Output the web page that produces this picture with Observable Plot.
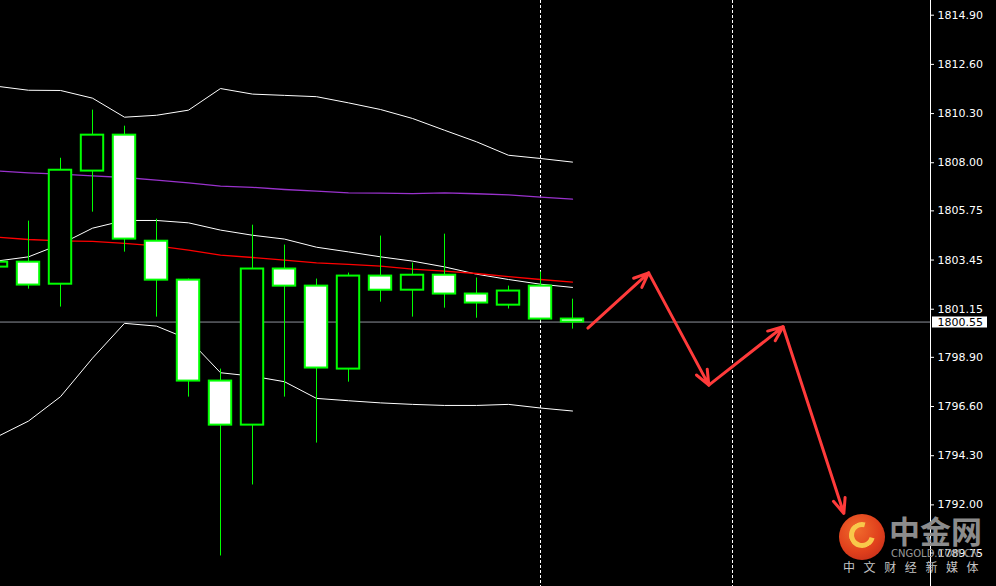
<!DOCTYPE html>
<html><head><meta charset="utf-8">
<script src="https://cdn.jsdelivr.net/npm/d3@7"></script>
<script src="https://cdn.jsdelivr.net/npm/@observablehq/plot@0.6"></script>
<style>
html,body{margin:0;padding:0;background:#000;}
#wrap{position:relative;width:996px;height:586px;overflow:hidden;background:#000;}
#chart svg{display:block;}
.lg-circle{position:absolute;left:839px;top:514px;width:46px;height:46px;border-radius:50%;
  background:radial-gradient(circle at 40% 35%,#f06a2c 0%,#e0401c 55%,#b8261a 100%);}
.lg-swirl{position:absolute;left:10px;top:8px;width:16px;height:16px;border-radius:50%;
  border:5px solid #f8c84a;border-right-color:transparent;border-bottom-color:#f8c84a;transform:rotate(-30deg);}
.lg-big{position:absolute;left:889px;top:513px;font-family:"Noto Sans CJK SC";font-weight:bold;font-size:31px;line-height:34px;color:#8c8c8c;}
.lg-en{position:absolute;left:891px;top:548px;font-family:"DejaVu Sans";font-size:10px;line-height:12px;color:#9a9a9a;}
.lg-cn{position:absolute;left:843px;top:560px;font-family:"Noto Sans CJK SC";font-size:12px;line-height:14px;letter-spacing:8.6px;color:#c4c4c4;white-space:nowrap;}
</style></head><body>
<div id="wrap"><div id="chart"></div>
<div class="lg-circle"><div class="lg-swirl"></div></div>
<div class="lg-big">中金网</div>
<div class="lg-en">CNGOLD.COM.CN</div>
<div class="lg-cn">中文财经新媒体</div>
</div>
<script>
// bar index (0 = first fully visible candle)
const barIndex = [-1,0,1,2,3,4,5,6,7,8,9,10,11,12,13,14,15,16,17];
const open  = [1803.12,1803.35,1802.32,1807.61,1809.29,1804.33,1802.51,1797.79,1795.73,1803.03,1802.23,1798.35,1802.70,1802.04,1802.74,1801.86,1801.34,1802.23,1800.69];
const high  = [1803.40,1805.27,1808.21,1810.46,1809.71,1805.36,1802.56,1798.35,1805.08,1804.15,1802.56,1802.84,1804.57,1803.31,1804.66,1802.61,1802.23,1802.89,1801.62];
const low   = [1803.05,1802.09,1801.25,1805.69,1803.82,1800.78,1797.04,1789.61,1792.93,1797.04,1794.89,1797.74,1801.48,1800.78,1801.20,1800.73,1801.16,1800.61,1800.22];
const close = [1803.35,1802.28,1807.65,1809.29,1804.43,1802.51,1797.79,1795.73,1803.03,1802.23,1798.40,1802.70,1802.04,1802.74,1801.86,1801.44,1802.00,1800.69,1800.55];

const bbUpper = [1811.58,1811.39,1811.38,1811.02,1810.13,1810.22,1810.46,1811.47,1811.21,1811.15,1811.09,1810.80,1810.49,1810.07,1809.52,1808.98,1808.35,1808.20,1808.03];
const bbMid   = [1803.40,1803.60,1804.19,1804.94,1805.30,1805.30,1805.19,1804.85,1804.61,1804.43,1804.05,1803.83,1803.60,1803.40,1803.13,1802.79,1802.54,1802.32,1802.17];
const bbLower = [1795.17,1795.92,1797.06,1798.86,1800.49,1800.36,1799.75,1798.18,1798.02,1797.76,1796.98,1796.87,1796.77,1796.70,1796.65,1796.65,1796.70,1796.53,1796.39];
const maRed   = [1804.52,1804.41,1804.35,1804.32,1804.23,1804.11,1803.91,1803.68,1803.57,1803.45,1803.32,1803.25,1803.17,1803.03,1802.93,1802.82,1802.67,1802.54,1802.42];
const maPurple= [1807.62,1807.53,1807.47,1807.39,1807.31,1807.19,1807.06,1806.91,1806.85,1806.75,1806.67,1806.59,1806.58,1806.56,1806.59,1806.55,1806.50,1806.39,1806.30];

const currentPrice = 1800.55;
const yTicks = [1814.90,1812.60,1810.30,1808.00,1805.75,1803.45,1801.15,1798.90,1796.60,1794.30,1792.00,1789.75];
const separatorBars = [16, 22];
// hand-drawn forecast path (bar index, price)
const arrowX = [17.48, 19.38, 21.26, 23.58, 25.48];
const arrowY = [1800.27, 1802.85, 1797.60, 1800.33, 1791.60];

const xDomain = [-0.875, 28.1875];
const yDomain = [1789.75, 1814.90];

const candles = barIndex.map((k, i) => ({k, o: open[i], h: high[i], l: low[i], c: close[i]}));
const bull = candles.filter(d => d.c >= d.o);
const bear = candles.filter(d => d.c < d.o);
const series = (vals) => barIndex.map((k, i) => ({k, v: vals[i]}));
const arrowSegs = arrowX.slice(1).map((x, i) => ({x1: arrowX[i], y1: arrowY[i], x2: x, y2: arrowY[i + 1]}));
const pxUnit = (xDomain[1] - xDomain[0]) / 930;
const xEdge = xDomain[1];

const chart = Plot.plot({
  width: 996, height: 586,
  marginTop: 0, marginBottom: 0, marginLeft: 0, marginRight: 66,
  x: {domain: xDomain, axis: null},
  y: {domain: yDomain, range: [552.5, 14.7]},
  style: {background: "#000", color: "#fff", fontFamily: "DejaVu Sans", fontSize: "11px"},
  marks: [
    Plot.ruleY([currentPrice], {stroke: "#8f939c", strokeWidth: 1}),
    Plot.ruleX(separatorBars, {stroke: "#ffffff", strokeWidth: 1, strokeDasharray: "3,2"}),
    Plot.line(series(bbUpper), {x: "k", y: "v", stroke: "#ffffff", strokeWidth: 1}),
    Plot.line(series(bbMid), {x: "k", y: "v", stroke: "#ffffff", strokeWidth: 1}),
    Plot.line(series(bbLower), {x: "k", y: "v", stroke: "#ffffff", strokeWidth: 1}),
    Plot.line(series(maPurple), {x: "k", y: "v", stroke: "#9932cc", strokeWidth: 1.3}),
    Plot.line(series(maRed), {x: "k", y: "v", stroke: "#ff0000", strokeWidth: 1.3}),
    Plot.ruleX(candles, {x: "k", y1: "l", y2: "h", stroke: "#00ff00", strokeWidth: 1}),
    Plot.rect(bull, {x1: d => d.k - 0.35, x2: d => d.k + 0.35, y1: "o", y2: "c", fill: "#000", stroke: "#00ff00", strokeWidth: 2}),
    Plot.rect(bear, {x1: d => d.k - 0.35, x2: d => d.k + 0.35, y1: "o", y2: "c", fill: "#fff", stroke: "#00ff00", strokeWidth: 2}),
    Plot.arrow(arrowSegs, {x1: "x1", y1: "y1", x2: "x2", y2: "y2", stroke: "#ff3b3b", strokeWidth: 3, headLength: 8, headAngle: 45}),
    Plot.ruleX([xEdge], {stroke: "#ffffff", strokeWidth: 1}),
    Plot.axisY(yTicks, {anchor: "right", tickSize: 3, tickPadding: 4, tickFormat: d => d.toFixed(2), fontSize: 11}),
    Plot.ruleY([currentPrice], {x1: xEdge + 2 * pxUnit, x2: xEdge + 57 * pxUnit, stroke: "#ffffff", strokeWidth: 11}),
    Plot.text([currentPrice], {x: xEdge, y: d => d, text: d => d.toFixed(2), textAnchor: "start", dx: 7, fill: "#000", fontSize: 11})
  ]
});
document.getElementById("chart").appendChild(chart);
</script>
</body></html>
